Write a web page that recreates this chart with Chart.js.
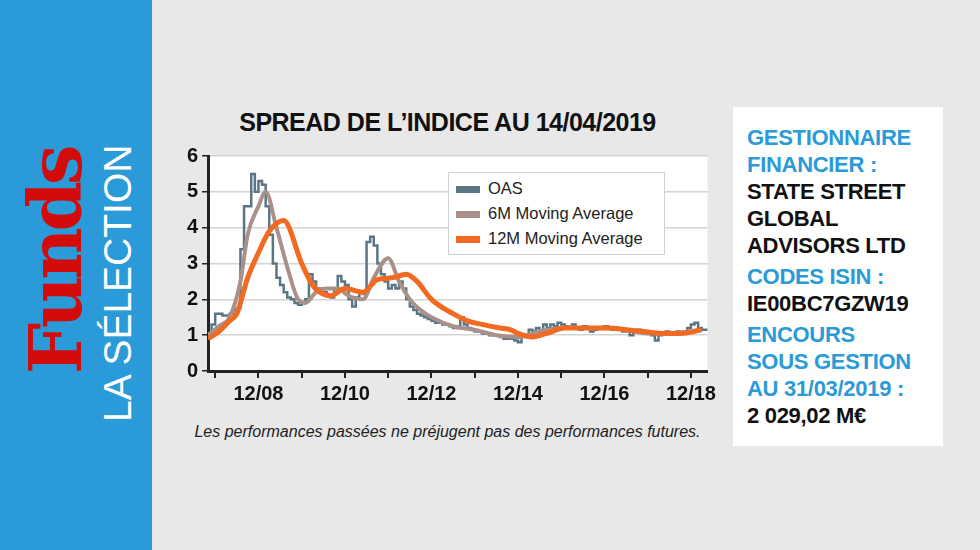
<!DOCTYPE html>
<html><head><meta charset="utf-8">
<script src="https://cdn.jsdelivr.net/npm/chart.js@4"></script>
<style>
body{margin:0;width:980px;height:550px;background:#e8e8e9;position:relative;overflow:hidden;font-family:"Liberation Sans",Arial,sans-serif}
#band{position:absolute;left:0;top:0;width:152px;height:550px;background:#2a9ad8}
#funds{position:absolute;left:20px;top:374px;transform:rotate(-90deg);transform-origin:0 0;color:#d40b0b;font-family:"DejaVu Serif",serif;font-size:72px;font-weight:bold;letter-spacing:-4px;white-space:nowrap;line-height:1}
#sel{position:absolute;left:98px;top:422px;transform:rotate(-90deg);transform-origin:0 0;color:#fff;font-size:39px;white-space:nowrap;line-height:1}
#title{position:absolute;left:160px;top:108px;width:575px;text-align:center;font-weight:bold;font-size:25px;letter-spacing:-0.5px;color:#111}
#wrap{position:absolute;left:160px;top:140px;width:560px;height:270px}
#note{position:absolute;left:160px;top:423px;width:575px;text-align:center;font-style:italic;font-size:16px;color:#222;white-space:nowrap}
#legend{position:absolute;left:448px;top:172px;width:217px;height:83px;background:#fff;border:1px solid #c8d3dc;box-sizing:border-box;padding:3px 7px;font-size:16.5px;color:#222}
#legend div{height:25px;line-height:25px;white-space:nowrap}
#legend span{display:inline-block;width:24px;height:7px;vertical-align:middle;margin-right:8px}
#box{position:absolute;left:733px;top:107px;width:210px;height:339px;background:#fff;padding:17px 14px;box-sizing:border-box;font-weight:bold;font-size:22px;line-height:27px;white-space:nowrap;letter-spacing:-0.3px}
.b{color:#2a9ad8}.k{color:#111}
</style></head><body>
<div id="band"></div>
<div id="funds">Funds</div>
<div id="sel">LA SÉLECTION</div>
<div id="title">SPREAD DE L’INDICE AU 14/04/2019</div>
<div id="wrap"><canvas id="c"></canvas></div>
<div id="note">Les performances passées ne préjugent pas des performances futures.</div>
<div id="legend">
<div><span style="background:#5a7685"></span>OAS</div>
<div><span style="background:#a9918a"></span>6M Moving Average</div>
<div><span style="background:#f26a21"></span>12M Moving Average</div>
</div>
<div id="box">
<div class="b">GESTIONNAIRE<br>FINANCIER :</div>
<div class="k">STATE STREET<br>GLOBAL<br>ADVISORS LTD</div>
<div class="b" style="margin-top:4px">CODES ISIN :</div>
<div class="k">IE00BC7GZW19</div>
<div class="b" style="margin-top:4px">ENCOURS<br>SOUS GESTION<br>AU 31/03/2019 :</div>
<div class="k">2 029,02 M€</div>
</div>
<script>
// OAS mensuel, à partir de 10/2007
const oasStart = "2007-10";
const oasValues = [
  1.0,1.3,1.6,1.6,1.55,1.55,1.6,1.7,1.75,3.4,4.6,4.6,5.5,5.0,5.3,5.2,4.6,3.8,3.0,2.6,2.4,2.2,2.05,2.0,
  1.9,1.85,1.9,2.0,2.7,2.5,2.3,2.3,2.2,2.1,2.05,2.3,2.65,2.5,2.4,2.0,1.8,2.05,2.2,2.15,3.6,3.75,3.5,3.0,
  2.7,2.5,2.3,2.4,2.3,2.5,2.3,2.0,1.8,1.7,1.6,1.55,1.5,1.45,1.4,1.35,1.35,
  1.3,1.3,1.25,1.2,1.25,1.5,1.3,1.2,1.15,1.1,1.1,1.05,
  1.05,1.0,1.0,1.0,0.95,0.9,0.9,0.9,0.85,0.8,1.0,0.95,
  1.15,1.1,1.2,1.1,1.3,1.2,1.3,1.25,1.35,1.3,1.25,1.2,
  1.3,1.2,1.15,1.25,1.2,1.1,1.15,1.2,1.2,1.25,1.2,1.15,
  1.2,1.15,1.1,1.15,1.0,1.1,1.15,1.1,1.05,1.05,1.0,0.85,
  1.0,1.05,1.1,1.05,1.05,1.1,1.05,1.1,1.2,1.3,1.35,1.2,
  1.15,1.15,1.15
];
const ma6Dates = ["2007-10","2008-01","2008-04","2008-07","2008-09","2008-12","2009-02","2009-05","2009-08","2009-11","2010-01","2010-04","2010-07","2010-10","2011-01","2011-05","2011-08","2011-12","2012-03","2012-06","2012-09","2012-12","2013-06","2013-12","2014-06","2014-12","2015-06","2015-12","2016-06","2016-12","2017-06","2017-12","2018-06","2018-12","2019-03"];
const ma6Values = [1.0,1.25,1.5,2.5,3.8,4.6,5.0,4.0,2.9,2.0,1.9,2.2,2.3,2.3,2.1,2.0,2.6,3.15,2.5,2.0,1.7,1.5,1.25,1.15,1.0,0.95,1.1,1.2,1.2,1.2,1.15,1.05,1.05,1.1,1.15];
const ma12Dates = ["2007-10","2008-01","2008-04","2008-06","2008-09","2008-12","2009-03","2009-07","2009-12","2010-03","2010-05","2010-08","2010-12","2011-05","2011-09","2012-01","2012-05","2012-08","2012-12","2013-06","2013-10","2014-02","2014-07","2014-10","2014-12","2015-04","2015-08","2016-01","2016-08","2017-01","2017-06","2017-11","2018-04","2018-09","2019-03"];
const ma12Values = [0.9,1.1,1.4,1.6,2.6,3.3,3.9,4.2,3.0,2.4,2.2,2.1,2.3,2.2,2.55,2.6,2.7,2.5,2.0,1.6,1.4,1.3,1.2,1.15,1.05,0.95,1.05,1.2,1.2,1.2,1.15,1.1,1.05,1.05,1.15];
const tickYears = [2007,2008,2009,2010,2011,2012,2013,2014,2015,2016,2017,2018];

const toX = s => { const [y,m] = s.split("-").map(Number); return y + (m - 1) / 12; };
const [sy, sm] = oasStart.split("-").map(Number);
const oasPts = oasValues.map((v, i) => ({x: sy + (sm - 1 + i) / 12, y: v}));
const ma6Pts = ma6Dates.map((d, i) => ({x: toX(d), y: ma6Values[i]}));
const ma12Pts = ma12Dates.map((d, i) => ({x: toX(d), y: ma12Values[i]}));

const plotBg = {id:"plotBg", beforeDraw(ch){const a=ch.chartArea,c=ch.ctx;c.save();c.fillStyle="#fff";c.fillRect(a.left,a.top,a.right-a.left,a.bottom-a.top);c.restore();}};

new Chart(document.getElementById("c"), {
  type: "line",
  data: {datasets: [
    {label:"OAS", data:oasPts, borderColor:"#5a7685", borderWidth:2.5, stepped:true, pointRadius:0, order:3},
    {label:"6M Moving Average", data:ma6Pts, borderColor:"#a9918a", borderWidth:4, cubicInterpolationMode:"monotone", pointRadius:0, order:2},
    {label:"12M Moving Average", data:ma12Pts, borderColor:"#f26a21", borderWidth:5, cubicInterpolationMode:"monotone", pointRadius:0, order:1}
  ]},
  options: {
    responsive:true, maintainAspectRatio:false, animation:false,
    layout:{padding:{top:10,right:2}},
    plugins:{legend:{display:false}, tooltip:{enabled:false}},
    scales:{
      x:{type:"linear", min:2007.75, max:2019.3,
        afterBuildTicks(ax){ax.ticks = tickYears.map(y => ({value:y + 11/12}));},
        ticks:{autoSkip:false, maxRotation:0, color:"#111", font:{size:20, weight:"bold", family:"Liberation Sans"}, padding:4,
          callback(v){const y=Math.round(v-11/12); return y%2===0 ? "12/"+String(y).slice(2) : "";}},
        grid:{drawOnChartArea:false, drawTicks:true, tickLength:7, color:"#222", lineWidth:2},
        border:{color:"#222", width:3}},
      y:{min:0, max:6,
        afterFit(ax){ax.width = 48;},
        ticks:{stepSize:1, color:"#111", font:{size:20, weight:"bold", family:"Liberation Sans"}, padding:4},
        grid:{color:"#d4d4d4", lineWidth:1.5, tickLength:6, tickColor:"#222"},
        border:{color:"#222", width:3}}
    }
  },
  plugins:[plotBg]
});
</script>
</body></html>
